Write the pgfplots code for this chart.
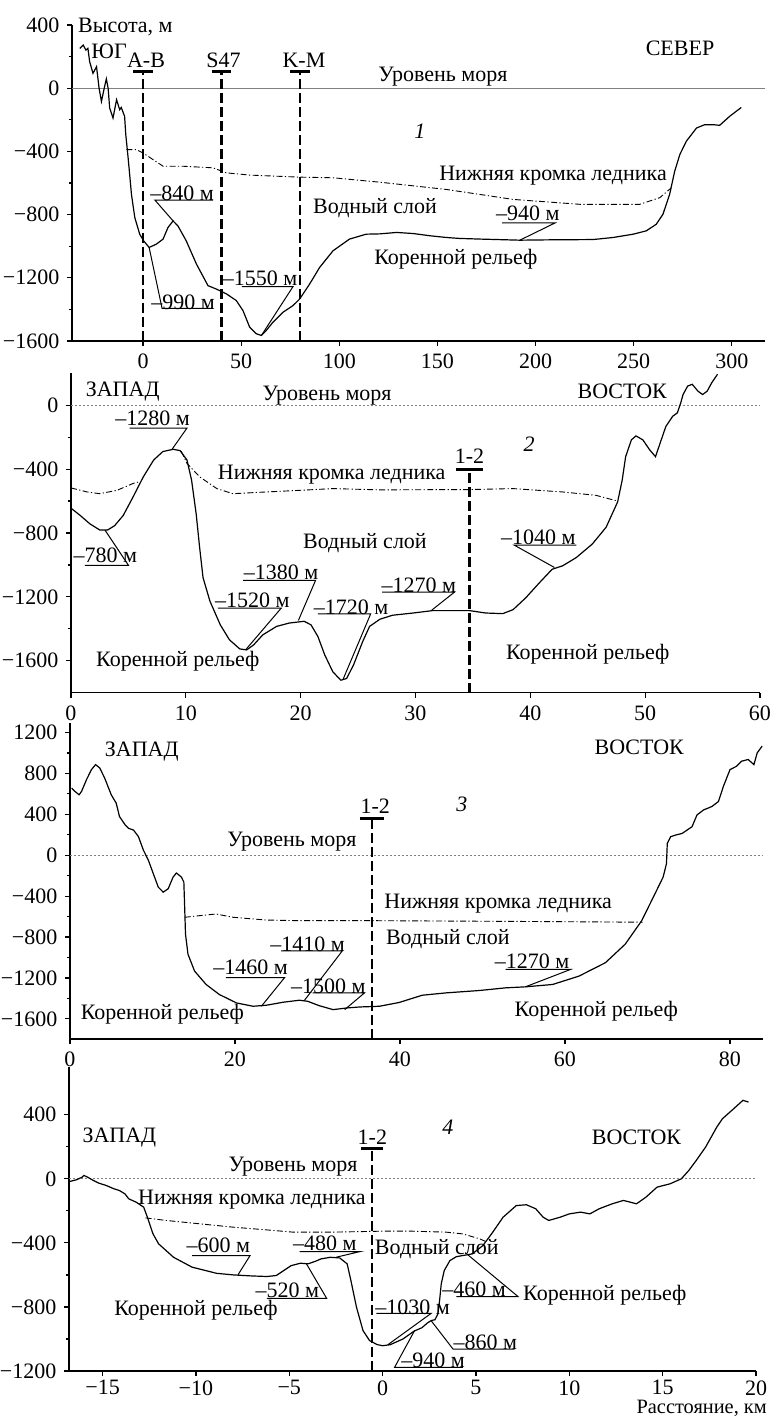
\documentclass[border=0pt]{standalone}
\usepackage{fontspec}
\setmainfont{Liberation Serif}
\usepackage{pgfplots}
\pgfplotsset{compat=1.18}
\newcommand\fsz{\fontsize{11pt}{13pt}\selectfont}
\tikzset{lbl/.style={font=\fsz, inner sep=0pt}, co/.style={black, line width=0.5pt}}
\pgfplotsset{
 prof/.style={scale only axis, axis x line*=bottom, axis y line*=left,
   axis line style={-, line width=0.8pt}, tick align=outside,
   major tick length=2.5pt, minor tick length=1.4pt,
   every tick/.style={line width=0.6pt, black},
   tick label style={font=\fsz}, clip=false, anchor=south west, minor y tick num=1},
 bed/.style={black, line width=0.6pt, no marks},
 ice/.style={black, line width=0.45pt, no marks, dash pattern=on 3pt off 1.2pt on 0.6pt off 1.2pt},
 sea/.style={gray, line width=0.4pt, no marks},
 seadot/.style={gray, line width=0.4pt, no marks, dash pattern=on 1pt off 1pt},
 cut/.style={black, line width=1.2pt, no marks, dash pattern=on 5pt off 2pt},
 bar/.style={black, line width=1.5pt, no marks},
}
\begin{document}
\fsz
\begin{tikzpicture}
\useasboundingbox (0,0) rectangle (386pt,709.5pt);
% ---------------- Panel 1
\begin{axis}[prof, at={(36pt,539pt)}, width=346.5pt, height=158pt,
  xmin=-36.2, xmax=316.9, ymin=-1600, ymax=400,
  xtick={0,50,100,150,200,250,300}, xticklabels={0,50,100,150,200,250,300},
  ytick={-1600,-1200,-800,-400,0,400}, yticklabels={−1600,−1200,−800,−400,0,400}]
\addplot[sea] coordinates {(-36.2,0) (316.9,0)};
\addplot[bed] coordinates {(-32.2,252) (-30.5,273) (-29.1,241) (-28.1,252) (-27.2,168) (-25.5,94) (-23.7,136) (-22.4,0) (-21.2,-84) (-19.6,10) (-18.7,59) (-17.8,0) (-17.0,-126) (-15.3,-189) (-13.5,-73) (-11.9,-136) (-11.1,-122) (-9.4,-178) (-8.8,-294) (-7.6,-441) (-5.9,-672) (-4.2,-819) (-1.7,-924) (0.3,-966) (3.1,-1008) (6.8,-987) (10.2,-955) (12.7,-882) (15.3,-840) (17.8,-872) (22.0,-966) (27.2,-1113) (33.1,-1250) (37.3,-1271) (42.5,-1302) (47.5,-1344) (50.9,-1407) (54.3,-1512) (57.7,-1554) (60.3,-1565) (62.8,-1533) (66.2,-1481) (71.3,-1418) (76.4,-1376) (79.8,-1334) (84.9,-1239) (90.0,-1134) (96.8,-1029) (105.2,-955) (113.7,-924) (120.7,-922) (129.2,-913) (137.7,-920) (146.2,-934) (154.6,-945) (161.4,-951) (171.6,-955) (192.0,-962) (205.5,-960) (229.2,-958) (239.5,-945) (249.7,-924) (256.4,-903) (261.5,-861) (264.9,-798) (268.3,-672) (270.9,-525) (273.5,-420) (276.8,-336) (282.0,-252) (286.2,-231) (290.5,-231) (293.8,-235) (298.9,-178) (304.8,-122)};
\addplot[ice] coordinates {(-8.5,-389) (-3.4,-389) (0,-410) (5.1,-452) (10.2,-494) (20.4,-494) (35.6,-504) (42.5,-536) (54.3,-550) (79.8,-563) (96.8,-567) (120.7,-595) (154.6,-641) (188.6,-704) (222.6,-735) (253.1,-735) (263.3,-693) (269.2,-630)};
\addplot[cut] coordinates {(0,-1600) (0,105)};
\addplot[cut] coordinates {(40,-1600) (40,105)};
\addplot[cut] coordinates {(80,-1600) (80,105)};
\addplot[bar] coordinates {(-5,105) (5,105)};
\addplot[bar] coordinates {(35,105) (45,105)};
\addplot[bar] coordinates {(75,105) (85,105)};
\node[lbl, anchor=west] at (-33.3,389) {Высота, м};
\node[lbl] at (-17.3,231) {ЮГ};
\node[lbl] at (1.5,175) {A-B};
\node[lbl] at (41,175) {S47};
\node[lbl] at (82,175) {K-M};
\node[lbl] at (152.8,74) {Уровень моря};
\node[lbl] at (273.6,250) {СЕВЕР};
\node[lbl] at (141.1,-273) {\textit{1}};
\node[lbl] at (208.9,-556) {Нижняя кромка ледника};
\node[lbl] at (118.2,-759) {Водный слой};
\node[lbl] at (159.4,-1080) {Коренной рельеф};
\node[lbl] at (19.9,-665) {–840 м};
\draw[co] (15.3,-840) -- (6.1,-709) -- (35.7,-709);
\node[lbl] at (20.4,-1357) {–990 м};
\draw[co] (3.1,-1008) -- (9.7,-1394) -- (35.7,-1394);
\node[lbl] at (59.6,-1206) {–1550 м};
\draw[co] (60.3,-1565) -- (76.4,-1256) -- (50.4,-1256);
\node[lbl] at (196.1,-790) {–940 м};
\draw[co] (192,-962) -- (209.9,-853) -- (182.9,-853);
\end{axis}
% ---------------- Panel 2
\begin{axis}[prof, at={(35.5pt,363.15pt)}, width=344.5pt, height=159.7pt,
  xmin=0, xmax=60, ymin=-1800, ymax=200,
  xtick={0,10,20,30,40,50,60}, xticklabels={0,10,20,30,40,50,60},
  ytick={-1600,-1200,-800,-400,0}, yticklabels={−1600,−1200,−800,−400,0}]
\addplot[seadot] coordinates {(0,0) (60,0)};
\addplot[bed] coordinates {(0.06,-648) (0.8,-690) (1.65,-743) (2.5,-781) (3.2,-781) (3.8,-754) (4.55,-690) (5.4,-575) (6.3,-448) (7.2,-343) (8.0,-290) (8.9,-276) (9.5,-284) (10.1,-343) (10.5,-469) (10.9,-680) (11.2,-890) (11.5,-1080) (12.1,-1227) (13.0,-1375) (13.8,-1469) (14.7,-1526) (15.3,-1532) (15.9,-1501) (16.7,-1438) (17.9,-1385) (19.0,-1364) (20.3,-1353) (20.9,-1375) (21.5,-1448) (22.1,-1564) (22.8,-1669) (23.5,-1722) (24.0,-1711) (24.6,-1627) (25.4,-1480) (26.0,-1385) (26.9,-1340) (28.0,-1315) (29.8,-1301) (31.5,-1286) (34.7,-1286) (36.1,-1301) (37.6,-1305) (38.5,-1280) (39.6,-1206) (40.8,-1111) (41.9,-1027) (42.8,-1006) (44.0,-954) (45.4,-869) (46.6,-764) (47.6,-606) (48.0,-469) (48.3,-322) (48.8,-217) (49.2,-192) (49.8,-217) (50.4,-280) (50.9,-322) (51.2,-259) (51.8,-133) (52.4,-69) (52.8,-48) (53.1,15) (53.3,67) (53.7,120) (54.1,131) (54.6,88) (55.0,67) (55.4,88) (55.8,141) (56.3,194)};
\addplot[ice] coordinates {(0,-518) (1.4,-543) (2.5,-554) (4.0,-533) (5.4,-490) (6.0,-478)};
\addplot[ice] coordinates {(9.6,-288) (10.1,-364) (11.2,-448) (12.7,-522) (14.1,-554) (17.0,-543) (19.9,-533) (22.8,-522) (26.9,-530) (34.7,-528) (38.5,-522) (42.8,-543) (45.7,-564) (47.6,-600)};
\addplot[cut] coordinates {(34.7,-1800) (34.7,-400)};
\addplot[bar] coordinates {(33.5,-400) (35.9,-400)};
\node[lbl] at (34.7,-320) {1-2};
\node[lbl] at (4.5,88) {ЗАПАД};
\node[lbl] at (22.3,57) {Уровень моря};
\node[lbl] at (48,88) {ВОСТОК};
\node[lbl] at (39.9,-247) {\textit{2}};
\node[lbl] at (22.7,-436) {Нижняя кромка ледника};
\node[lbl] at (25.6,-864) {Водный слой};
\node[lbl] at (9.3,-1600) {Коренной рельеф};
\node[lbl] at (45,-1556) {Коренной рельеф};
\node[lbl] at (7.1,-84) {–1280 м};
\draw[co] (8.8,-276) -- (10.1,-143) -- (5.1,-143);
\node[lbl] at (3.0,-939) {–780 м};
\draw[co] (2.96,-782) -- (5.0,-1002) -- (1.2,-1002);
\node[lbl] at (15.8,-1222) {–1520 м};
\draw[co] (15.2,-1532) -- (18.3,-1271) -- (12.8,-1271);
\node[lbl] at (18.3,-1044) {–1380 м};
\draw[co] (19.8,-1348) -- (21.3,-1096) -- (15.0,-1096);
\node[lbl] at (24.4,-1264) {–1720 м};
\draw[co] (23.7,-1715) -- (26.1,-1306) -- (21.5,-1306);
\node[lbl] at (30.3,-1128) {–1270 м};
\draw[co] (31.4,-1284) -- (33.4,-1170) -- (27.1,-1170);
\node[lbl] at (40.7,-824) {–1040 м};
\draw[co] (42.1,-1016) -- (38.6,-876) -- (44.0,-876);
\end{axis}
% ---------------- Panel 3
\begin{axis}[prof, at={(35pt,189.85pt)}, width=346.5pt, height=158pt,
  xmin=0, xmax=84, ymin=-1800, ymax=1290,
  xtick={0,20,40,60,80}, xticklabels={0,20,40,60,80},
  ytick={-1600,-1200,-800,-400,0,400,800,1200}, yticklabels={−1600,−1200,−800,−400,0,400,800,1200}]
\addplot[seadot] coordinates {(0,0) (84,0)};
\addplot[bed] coordinates {(0.2,657) (0.6,624) (1.1,591) (1.4,624) (2.0,739) (2.6,837) (3.1,886) (3.6,854) (4.2,755) (5.0,591) (5.6,509) (6.0,378) (6.7,295) (7.1,263) (7.7,246) (8.3,181) (8.9,49) (9.5,-49) (10.1,-181) (10.7,-312) (11.3,-361) (11.9,-328) (12.5,-213) (12.9,-174) (13.5,-213) (13.8,-263) (13.9,-509) (14.0,-771) (14.3,-968) (15.1,-1133) (16.5,-1264) (18.1,-1362) (20.2,-1445) (22.2,-1477) (23.8,-1467) (25.8,-1438) (27.8,-1418) (28.8,-1428) (30.2,-1471) (31.9,-1510) (33.5,-1494) (35.1,-1484) (37.5,-1477) (39.9,-1440) (42.7,-1369) (45.6,-1346) (49.6,-1323) (52.8,-1297) (55.2,-1287) (58.5,-1264) (61.7,-1182) (64.9,-1051) (67.3,-870) (69.3,-640) (70.9,-378) (71.9,-213) (72.3,-82) (72.4,115) (72.8,181) (73.4,197) (74.2,213) (75.4,279) (76.0,394) (76.8,443) (77.8,476) (78.6,525) (79.2,673) (80.0,837) (80.8,870) (81.4,919) (82.2,936) (82.9,886) (83.3,1001) (83.9,1067)};
\addplot[ice] coordinates {(13.9,-607) (15.7,-591) (17.7,-575) (19.8,-607) (23.8,-634) (27.8,-640) (36.6,-640) (53.6,-647) (69.4,-655)};
\addplot[cut] coordinates {(36.6,-1800) (36.6,361)};
\addplot[bar] coordinates {(35.1,361) (38.1,361)};
\node[lbl] at (37,476) {1-2};
\node[lbl] at (8.7,1018) {ЗАПАД};
\node[lbl] at (69,1051) {ВОСТОК};
\node[lbl] at (47.5,493) {\textit{3}};
\node[lbl] at (26.9,131) {Уровень моря};
\node[lbl] at (51.9,-476) {Нижняя кромка ледника};
\node[lbl] at (45.8,-821) {Водный слой};
\node[lbl] at (63.8,-1527) {Коренной рельеф};
\node[lbl] at (11.2,-1559) {Коренной рельеф};
\node[lbl] at (56,-1034) {–1270 м};
\draw[co] (55.2,-1287) -- (60.7,-1116) -- (52.8,-1116);
\node[lbl] at (21.9,-1100) {–1460 м};
\draw[co] (23.2,-1477) -- (26.0,-1198) -- (18.9,-1198);
\node[lbl] at (28.8,-870) {–1410 м};
\draw[co] (28.4,-1421) -- (33.0,-936) -- (25.6,-936);
\node[lbl] at (31.3,-1280) {–1500 м};
\draw[co] (33.3,-1510) -- (35.7,-1346) -- (29.4,-1346);
\end{axis}
% ---------------- Panel 4
\begin{axis}[prof, at={(34.5pt,24pt)}, width=343.5pt, height=152.15pt,
  xmin=-16.8, xmax=20, ymin=-1200, ymax=700,
  xticklabel style={inner ysep=2pt},
  xtick={-15,-10,-5,0,5,10,15,20}, xticklabels={−15,−10,−5,0,5,10,15,20},
  ytick={-1200,-800,-400,0,400}, yticklabels={−1200,−800,−400,0,400}]
\addplot[seadot] coordinates {(-16.8,0) (20,0)};
\addplot[bed] coordinates {(-16.77,-17) (-16.4,-6) (-16.1,10) (-16.0,21) (-15.8,10) (-15.5,-10) (-15.2,-27) (-14.8,-42) (-14.4,-62) (-14.1,-73) (-13.8,-94) (-13.6,-125) (-13.2,-146) (-12.8,-177) (-12.6,-240) (-12.3,-344) (-12.0,-406) (-11.2,-490) (-10.2,-552) (-8.9,-590) (-8.0,-600) (-7.1,-606) (-6.2,-610) (-5.7,-604) (-5.3,-573) (-4.9,-542) (-4.4,-527) (-4.0,-531) (-3.6,-515) (-3.3,-500) (-2.8,-490) (-2.3,-494) (-1.9,-531) (-1.7,-635) (-1.4,-802) (-1.05,-948) (-0.7,-1010) (-0.3,-1035) (0.0,-1042) (0.4,-1036) (1.09,-1000) (1.7,-950) (2.1,-930) (2.4,-900) (2.6,-885) (2.8,-880) (2.96,-844) (3.05,-760) (3.14,-656) (3.3,-573) (3.6,-511) (3.95,-486) (4.5,-475) (4.8,-469) (5.37,-417) (5.9,-333) (6.45,-240) (7.16,-167) (7.7,-162) (8.2,-187) (8.6,-240) (8.9,-260) (9.5,-240) (10.0,-219) (10.6,-208) (11.1,-219) (11.6,-187) (12.3,-156) (12.9,-135) (13.6,-156) (14.1,-115) (14.7,-52) (15.4,-31) (16.0,0) (16.4,52) (16.8,115) (17.3,198) (17.9,323) (18.2,375) (18.8,437) (19.3,490) (19.6,479)};
\addplot[ice] coordinates {(-12.7,-244) (-11.6,-260) (-9.8,-281) (-8.0,-302) (-6.2,-319) (-4.8,-333) (-2.7,-333) (0,-327) (1.6,-327) (3.4,-333) (4.3,-344) (5.2,-375) (5.6,-395)};
\addplot[cut] coordinates {(-0.57,-1200) (-0.57,187)};
\addplot[bar] coordinates {(-1.14,187) (0.0,187)};
\node[lbl] at (-0.55,260) {1-2};
\node[lbl] at (-14.1,260) {ЗАПАД};
\node[lbl] at (3.5,323) {\textit{4}};
\node[lbl] at (13.6,260) {ВОСТОК};
\node[lbl] at (-4.8,73) {Уровень моря};
\node[lbl] at (-7.0,-131) {Нижняя кромка ледника};
\node[lbl] at (2.9,-438) {Водный слой};
\node[lbl] at (-10,-823) {Коренной рельеф};
\node[lbl] at (11.9,-729) {Коренной рельеф};
\node[lbl] at (-8.8,-417) {–600 м};
\draw[co] (-7.75,-600) -- (-7.1,-479) -- (-10.2,-479);
\node[lbl] at (-3.1,-402) {–480 м};
\draw[co] (-2.5,-490) -- (-1.2,-454) -- (-4.45,-454);
\node[lbl] at (-5.1,-694) {–520 м};
\draw[co] (-4.1,-527) -- (-3.0,-746) -- (-6.2,-746);
\node[lbl] at (1.6,-802) {–1030 м};
\draw[co] (0.28,-1036) -- (2.6,-840) -- (-0.34,-840);
\node[lbl] at (2.7,-1136) {–940 м};
\draw[co] (1.71,-948) -- (0.64,-1177) -- (4.3,-1177);
\node[lbl] at (5.5,-1021) {–860 м};
\draw[co] (2.6,-886) -- (3.77,-1063) -- (7.07,-1063);
\node[lbl] at (4.9,-688) {–460 м};
\draw[co] (4.57,-475) -- (7.25,-735) -- (3.95,-735);
\node[lbl, anchor=base east, font=\fontsize{10.2pt}{12pt}\selectfont] at (20.6,-1468) {Расстояние, км};
\end{axis}
\end{tikzpicture}
\end{document}
